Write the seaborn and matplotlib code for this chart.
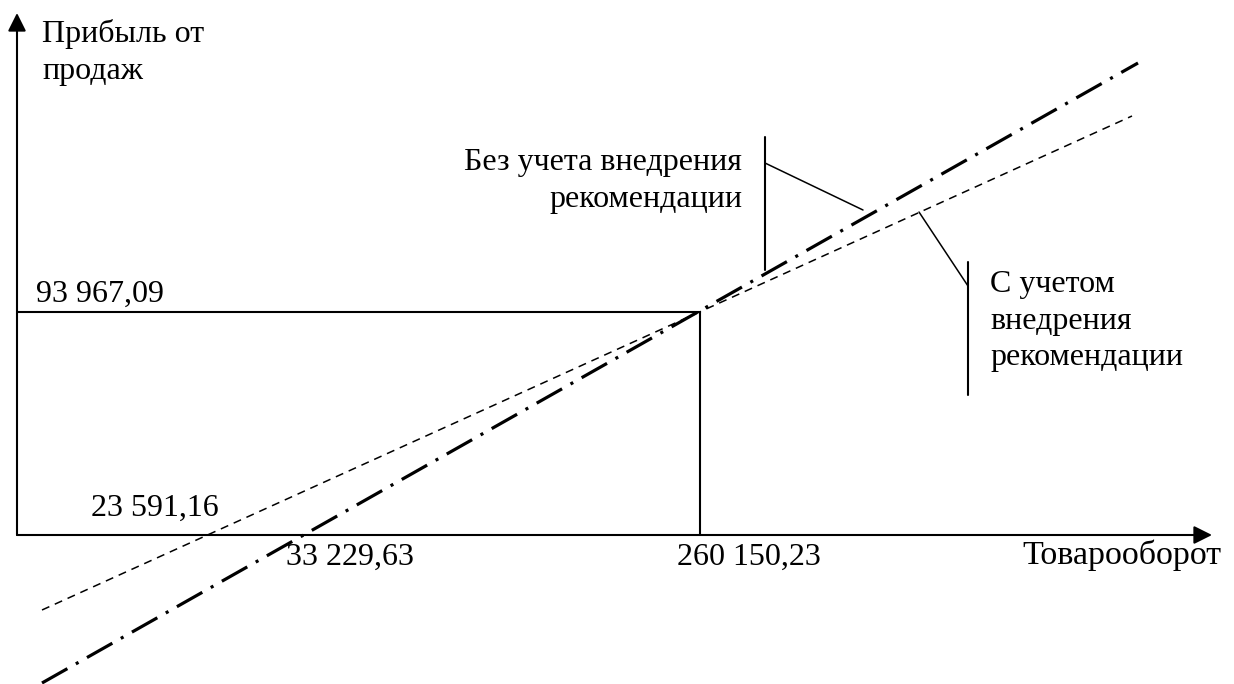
import numpy as np
import pandas as pd
import seaborn as sns
import matplotlib.pyplot as plt

sns.set_theme(style="white")
plt.rcParams['font.family'] = ['Liberation Serif', 'DejaVu Serif']
plt.rcParams['lines.scale_dashes'] = False
plt.rcParams['text.color'] = 'black'

# schematic coordinates, origin = where the two axes cross
x_before = [25, 1115]
y_before = [-75, 419]        # без учета внедрения (dashed)
x_after = [25, 1121]
y_after = [-148, 472]        # с учетом внедрения (dash-dot)

be_x, be_y = 683, 223        # точка безубыточности
x_axis_end, y_axis_end = 1195, 522

value_labels = ["93 967,09", "23 591,16", "33 229,63", "260 150,23"]
y_title = ["Прибыль от", "продаж"]
x_title = "Товарооборот"
note_before = ["Без учета внедрения", "рекомендации"]
note_after = ["С учетом", "внедрения", "рекомендации"]

fig = plt.figure(figsize=(12.34, 6.84), dpi=100)
ax = fig.add_axes([0, 0, 1, 1])
ax.set_xlim(-17, 1217)
ax.set_ylim(-149, 535)
ax.axis('off')

# axes with arrows
arrow = dict(arrowstyle='-|>,head_length=0.5,head_width=0.25', color='black',
             lw=1.5, mutation_scale=22, shrinkA=0, shrinkB=0)
ax.annotate('', xy=(0, y_axis_end), xytext=(0, 0), arrowprops=arrow)
ax.annotate('', xy=(x_axis_end, 0), xytext=(0, 0), arrowprops=arrow)

# the two profit lines
sns.lineplot(x=x_before, y=y_before, color='black', lw=1.1,
             linestyle=(0, (5.8, 4.3)), ax=ax)
sns.lineplot(x=x_after, y=y_after, color='black', lw=2.3,
             linestyle=(0, (21, 7, 2.2, 7)), ax=ax)

# break-even guides
ax.plot([0, be_x], [be_y, be_y], color='black', lw=1.5)
ax.plot([be_x, be_x], [0, be_y], color='black', lw=1.5)

# callout lines
ax.plot([748, 748], [265, 398], color='black', lw=1.5)
ax.plot([748, 846], [372, 325], color='black', lw=1.1)
ax.plot([951, 951], [140, 273], color='black', lw=1.5)
ax.plot([951, 902], [249, 323], color='black', lw=1.1)

fs = 23
ax.text(25, 493, y_title[0], fontsize=fs, va='baseline', ha='left')
ax.text(25, 456, y_title[1], fontsize=fs, va='baseline', ha='left')
ax.text(1005, -29, x_title, fontsize=24.5, va='baseline', ha='left')

ax.text(19, 233, value_labels[0], fontsize=fs, va='baseline', ha='left')
ax.text(74, 19, value_labels[1], fontsize=fs, va='baseline', ha='left')
ax.text(269, -30, value_labels[2], fontsize=fs, va='baseline', ha='left')
ax.text(660, -30, value_labels[3], fontsize=fs, va='baseline', ha='left')

for i, line in enumerate(note_before):
    ax.text(725, 365 - 37 * i, line, fontsize=fs, va='baseline', ha='right')
for i, line in enumerate(note_after):
    ax.text(973, 243 - 36.5 * i, line, fontsize=fs, va='baseline', ha='left')

fig.savefig('out.png', dpi=100, facecolor='white')
